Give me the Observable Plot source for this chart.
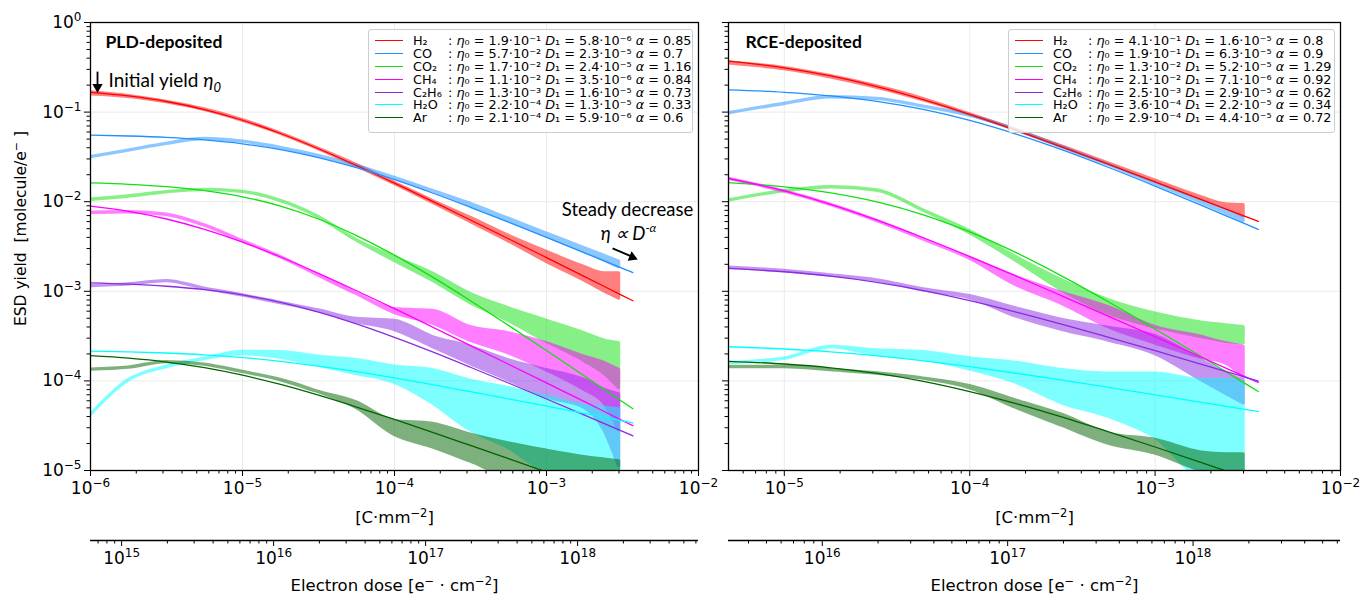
<!DOCTYPE html>
<html>
<head>
<meta charset="utf-8">
<script src="https://cdn.jsdelivr.net/npm/d3@7"></script>
<script src="https://cdn.jsdelivr.net/npm/@observablehq/plot@0.6"></script>
<style>
  body { margin: 0; background: #fff; }
  #wrap { position: relative; width: 1370px; height: 596px; overflow: hidden; font-family: "DejaVu Sans", sans-serif; }
  .legend { position: absolute; box-sizing: border-box; background: rgba(255,255,255,0.82); border: 1px solid #cdcdcd; border-radius: 3px; padding-top: 5px; font-family: "DejaVu Sans", sans-serif; font-size: 12.8px; color: #000; }
  .legend .row { height: 12.9px; line-height: 12.9px; white-space: nowrap; }
  .legend .sw { display: inline-block; width: 28px; height: 0; border-top: 1.8px solid; vertical-align: middle; margin-left: 6px; margin-right: 10px; position: relative; top: -1px; }
  .legend .nm { display: inline-block; width: 35px; }
</style>
</head>
<body>
<div id="wrap"></div>
<script>
// ---------------- categories & styles ----------------
const species = ["H₂", "CO", "CO₂", "CH₄", "C₂H₆", "H₂O", "Ar"];
const colors = ["#ff0000", "#1e90ff", "#10e010", "#ff00ff", "#8a2be2", "#00ffff", "#006400"];

// ---------------- legend (fit parameters) ----------------
const pldEta0Mant = [1.9, 5.7, 1.7, 1.1, 1.3, 2.2, 2.1];
const pldEta0Exp  = [-1, -2, -2, -2, -3, -4, -4];
const pldD1Mant   = [5.8, 2.3, 2.4, 3.5, 1.6, 1.3, 5.9];
const pldD1Exp    = [-6, -5, -5, -6, -5, -5, -6];
const pldAlpha    = [0.85, 0.7, 1.16, 0.84, 0.73, 0.33, 0.6];
const rceEta0Mant = [4.1, 1.9, 1.3, 2.1, 2.5, 3.6, 2.9];
const rceEta0Exp  = [-1, -1, -2, -2, -3, -4, -4];
const rceD1Mant   = [1.6, 6.3, 5.2, 7.1, 2.9, 2.2, 4.4];
const rceD1Exp    = [-5, -5, -5, -6, -5, -5, -5];
const rceAlpha    = [0.8, 0.9, 1.29, 0.92, 0.62, 0.34, 0.72];

// ---------------- ticks ----------------
const yTicks = [1e-5, 1e-4, 1e-3, 1e-2, 1e-1, 1];
const yTickLabels = ["10⁻⁵", "10⁻⁴", "10⁻³", "10⁻²", "10⁻¹", "10⁰"];
const xTicksL = [1e-6, 1e-5, 1e-4, 1e-3, 1e-2];
const xTickLabelsL = ["10⁻⁶", "10⁻⁵", "10⁻⁴", "10⁻³", "10⁻²"];
const xTicksR = [1e-5, 1e-4, 1e-3, 1e-2];
const xTickLabelsR = ["10⁻⁵", "10⁻⁴", "10⁻³", "10⁻²"];
const eTicksL = [1e15, 1e16, 1e17, 1e18];
const eTickLabelsL = ["10¹⁵", "10¹⁶", "10¹⁷", "10¹⁸"];
const eTicksR = [1e16, 1e17, 1e18];
const eTickLabelsR = ["10¹⁶", "10¹⁷", "10¹⁸"];
const electronsPerCmm2 = 6.2415e20; // 1 C·mm⁻² in e⁻·cm⁻²

// ---------------- PLD-deposited: fitted curves ----------------
const pldFitDose = [1e-6, 1.78e-6, 3.16e-6, 5.62e-6, 1e-5, 1.78e-5, 3.16e-5, 5.62e-5, 1e-4, 1.78e-4, 3.16e-4, 5.62e-4, 1e-3, 1.78e-3, 3.16e-3, 3.7e-3];
const pldFitH2   = [0.166, 0.1514, 0.1313, 0.1068, 0.0811, 0.0577, 0.039, 0.02535, 0.0161, 0.01008, 0.00625, 0.00386, 0.002375, 0.001459, 0.000896, 0.000784];
const pldFitCO   = [0.0553, 0.0541, 0.0521, 0.0489, 0.0443, 0.0382, 0.0311, 0.024, 0.01763, 0.01251, 0.00866, 0.00591, 0.004, 0.00269, 0.001806, 0.00162];
const pldFitCO2  = [0.01621, 0.01564, 0.01472, 0.01331, 0.01135, 0.00894, 0.00641, 0.00419, 0.00253, 0.001438, 0.000785, 0.000417, 0.0002185, 0.0001134, 0.0000586, 0.0000489];
const pldFitCH4  = [0.00891, 0.00779, 0.00641, 0.00492, 0.00354, 0.002415, 0.001586, 0.001015, 0.00064, 0.000399, 0.000248, 0.0001535, 0.0000949, 0.0000586, 0.0000361, 0.0000317];
const pldFitC2H6 = [0.001244, 0.001204, 0.001139, 0.001043, 0.000912, 0.000753, 0.000587, 0.000433, 0.000306, 0.0002105, 0.000142, 0.0000947, 0.0000628, 0.0000415, 0.0000273, 0.0000244];
const pldFitH2O  = [0.0002147, 0.0002109, 0.0002048, 0.0001954, 0.0001822, 0.0001655, 0.0001464, 0.0001267, 0.0001078, 0.0000907, 0.0000757, 0.000063, 0.0000523, 0.0000433, 0.0000358, 0.000034];
const pldFitAr   = [0.0001912, 0.0001792, 0.0001623, 0.0001405, 0.0001158, 0.0000912, 0.0000692, 0.0000511, 0.0000371, 0.0000267, 0.00001905, 0.00001355, 0.00000962, 0.00000682, 0.00000483, 0.0000044];

// ---------------- PLD-deposited: measured (lower / upper envelope) ----------------
const pldMeasDose = [1e-6, 1.78e-6, 3.16e-6, 5.62e-6, 1e-5, 1.78e-5, 3.16e-5, 5.62e-5, 1e-4, 1.78e-4, 3.16e-4, 5.62e-4, 1e-3, 1.78e-3, 2.4e-3, 3e-3];
const pldH2Lo   = [0.158, 0.148, 0.129, 0.106, 0.0804, 0.0575, 0.0389, 0.0251, 0.01585, 0.00977, 0.00596, 0.00363, 0.00214, 0.00132, 0.001, 0.000832];
const pldH2Hi   = [0.166, 0.151, 0.130, 0.107, 0.0813, 0.0575, 0.0389, 0.0257, 0.0162, 0.0102, 0.00661, 0.00417, 0.00275, 0.00186, 0.00158, 0.00158];
const pldCOLo   = [0.0314, 0.0372, 0.0442, 0.0501, 0.0468, 0.0398, 0.0324, 0.0251, 0.0184, 0.0132, 0.00902, 0.00617, 0.00412, 0.00275, 0.00221, 0.00186];
const pldCOHi   = [0.0314, 0.0372, 0.0442, 0.0501, 0.0468, 0.0398, 0.0324, 0.0251, 0.0184, 0.0132, 0.00944, 0.00646, 0.00442, 0.00302, 0.00248, 0.00214];
const pldCO2Lo  = [0.0105, 0.01143, 0.01276, 0.01355, 0.01288, 0.01023, 0.00676, 0.00372, 0.00219, 0.00132, 0.000741, 0.000468, 0.000275, 0.000166, 0.00012, 0.0000832];
const pldCO2Hi  = [0.0105, 0.01143, 0.01276, 0.01355, 0.01288, 0.01023, 0.00676, 0.00372, 0.0024, 0.00158, 0.000933, 0.000646, 0.000468, 0.000339, 0.000282, 0.000263];
const pldCH4Lo  = [0.00752, 0.00764, 0.00715, 0.00543, 0.00363, 0.00241, 0.0015, 0.00094, 0.000575, 0.000437, 0.000282, 0.000204, 0.000132, 0.0000794, 0.0000562, 0.0000282];
const pldCH4Hi  = [0.00752, 0.00764, 0.00715, 0.00543, 0.00363, 0.00241, 0.0015, 0.00094, 0.000631, 0.000603, 0.000398, 0.000339, 0.000263, 0.000186, 0.000158, 0.000132];
const pldC2H6Lo = [0.001143, 0.001194, 0.0013, 0.00107, 0.0009, 0.00074, 0.000601, 0.000457, 0.000372, 0.00024, 0.000155, 0.000102, 0.0000661, 0.0000501, 0.0000282, 0.0000112];
const pldC2H6Hi = [0.001143, 0.001194, 0.0013, 0.00107, 0.0009, 0.00074, 0.00061, 0.00049, 0.000468, 0.000309, 0.00024, 0.00017, 0.000132, 0.000102, 0.0000794, 0.0000708];
const pldH2OLo  = [0.0000414, 0.0001016, 0.0001429, 0.0001754, 0.0002, 0.000182, 0.000148, 0.00012, 0.0000955, 0.0000562, 0.0000282, 0.0000178, 0.00001, 0.0000089, 0.0000089, 0.0000089];
const pldH2OHi  = [0.0000414, 0.0001016, 0.0001429, 0.0001754, 0.000211, 0.000209, 0.000186, 0.00017, 0.0001445, 0.0001318, 0.0001, 0.0000832, 0.0000661, 0.0000525, 0.0000501, 0.0000479];
const pldArLo   = [0.0001336, 0.0001406, 0.0001622, 0.000152, 0.0001259, 0.0001023, 0.0000752, 0.0000501, 0.0000251, 0.0000182, 0.0000126, 0.0000089, 0.0000089, 0.0000089, 0.0000089, 0.0000089];
const pldArHi   = [0.0001336, 0.0001406, 0.0001622, 0.000152, 0.0001259, 0.0001023, 0.0000752, 0.0000575, 0.0000355, 0.0000331, 0.0000251, 0.00002, 0.0000166, 0.0000141, 0.0000132, 0.0000126];

// ---------------- RCE-deposited: fitted curves ----------------
const rceFitDose = [5e-6, 1e-5, 1.78e-5, 3.16e-5, 5.62e-5, 1e-4, 1.78e-4, 3.16e-4, 5.62e-4, 1e-3, 1.78e-3, 3.16e-3, 3.6e-3];
const rceFitH2   = [0.370, 0.312, 0.253, 0.1922, 0.1377, 0.0943, 0.0626, 0.0406, 0.0261, 0.01662, 0.01055, 0.00668, 0.00602];
const rceFitCO   = [0.1774, 0.1664, 0.1519, 0.1318, 0.107, 0.0808, 0.0568, 0.0378, 0.02408, 0.01494, 0.00911, 0.0055, 0.00491];
const rceFitCO2  = [0.01632, 0.01463, 0.01256, 0.00995, 0.00713, 0.0046, 0.0027, 0.00147, 0.00076, 0.000379, 0.0001857, 0.0000898, 0.0000762];
const rceFitCH4  = [0.01816, 0.01321, 0.00936, 0.00623, 0.00396, 0.002443, 0.001478, 0.000884, 0.000525, 0.000311, 0.0001836, 0.0001083, 0.0000961];
const rceFitC2H6 = [0.0018, 0.001652, 0.001476, 0.001257, 0.001018, 0.000787, 0.000587, 0.000428, 0.000306, 0.0002173, 0.0001532, 0.0001077, 0.0000994];
const rceFitH2O  = [0.0002405, 0.000227, 0.0002108, 0.0001905, 0.0001675, 0.000144, 0.0001217, 0.0001018, 0.0000845, 0.0000699, 0.0000577, 0.0000475, 0.0000455];
const rceFitAr   = [0.0001655, 0.0001543, 0.0001401, 0.0001211, 0.0000989, 0.0000761, 0.0000558, 0.0000394, 0.00002705, 0.00001829, 0.00001225, 0.00000815, 0.00000743];

// ---------------- RCE-deposited: measured (lower / upper envelope) ----------------
const rceMeasDose = [5e-6, 1e-5, 1.78e-5, 3.16e-5, 5.62e-5, 1e-4, 1.78e-4, 3.16e-4, 5.62e-4, 1e-3, 1.78e-3, 2.4e-3, 3e-3];
const rceH2Lo   = [0.351, 0.302, 0.245, 0.188, 0.136, 0.0944, 0.0631, 0.0412, 0.0266, 0.0168, 0.0107, 0.00851, 0.00692];
const rceH2Hi   = [0.359, 0.309, 0.251, 0.193, 0.140, 0.0944, 0.0631, 0.0412, 0.0266, 0.0172, 0.0112, 0.00933, 0.00912];
const rceCOLo   = [0.097, 0.1233, 0.1462, 0.1403, 0.1151, 0.0912, 0.0631, 0.0403, 0.0257, 0.01585, 0.00977, 0.0075, 0.0061];
const rceCOHi   = [0.097, 0.1233, 0.1462, 0.1403, 0.1151, 0.0912, 0.0631, 0.0403, 0.0257, 0.01585, 0.01, 0.00785, 0.00646];
const rceCO2Lo  = [0.0103, 0.0131, 0.01452, 0.01334, 0.00798, 0.00447, 0.00219, 0.001023, 0.000562, 0.000398, 0.000309, 0.000275, 0.000263];
const rceCO2Hi  = [0.0103, 0.0131, 0.01452, 0.01334, 0.00798, 0.00468, 0.0024, 0.00132, 0.000794, 0.000562, 0.000447, 0.000417, 0.000398];
const rceCH4Lo  = [0.018, 0.01303, 0.00923, 0.0061, 0.0038, 0.00232, 0.001175, 0.000724, 0.000398, 0.000263, 0.000182, 0.000158, 0.000112];
const rceCH4Hi  = [0.018, 0.01303, 0.00923, 0.0061, 0.0038, 0.00237, 0.001445, 0.000955, 0.000661, 0.000398, 0.000309, 0.000263, 0.00024];
const rceC2H6Lo = [0.001832, 0.001683, 0.001503, 0.001324, 0.001023, 0.000841, 0.000525, 0.000372, 0.000282, 0.0002, 0.000102, 0.0000724, 0.0000562];
const rceC2H6Hi = [0.001832, 0.001683, 0.001503, 0.001324, 0.001047, 0.000881, 0.000646, 0.000479, 0.000389, 0.000316, 0.00017, 0.00012, 0.000102];
const rceH2OLo  = [0.0001585, 0.000177, 0.0002388, 0.000195, 0.0001738, 0.0001349, 0.0000955, 0.0000562, 0.0000398, 0.0000234, 0.0000089, 0.0000089, 0.0000089];
const rceH2OHi  = [0.0001585, 0.000177, 0.0002388, 0.0002188, 0.000209, 0.0001778, 0.0001585, 0.0001318, 0.0001202, 0.0001202, 0.0001023, 0.0001023, 0.0000955];
const rceArLo   = [0.0001429, 0.0001429, 0.0001318, 0.0001208, 0.0001059, 0.0000832, 0.0000501, 0.0000316, 0.00002, 0.0000155, 0.00001, 0.0000089, 0.0000089];
const rceArHi   = [0.0001429, 0.0001429, 0.0001318, 0.0001208, 0.0001059, 0.0000871, 0.0000603, 0.0000417, 0.0000257, 0.0000219, 0.00001585, 0.00001514, 0.00001514];

// ---------------- assemble tables ----------------
const pldFits = [pldFitH2, pldFitCO, pldFitCO2, pldFitCH4, pldFitC2H6, pldFitH2O, pldFitAr];
const pldLos = [pldH2Lo, pldCOLo, pldCO2Lo, pldCH4Lo, pldC2H6Lo, pldH2OLo, pldArLo];
const pldHis = [pldH2Hi, pldCOHi, pldCO2Hi, pldCH4Hi, pldC2H6Hi, pldH2OHi, pldArHi];
const rceFits = [rceFitH2, rceFitCO, rceFitCO2, rceFitCH4, rceFitC2H6, rceFitH2O, rceFitAr];
const rceLos = [rceH2Lo, rceCOLo, rceCO2Lo, rceCH4Lo, rceC2H6Lo, rceH2OLo, rceArLo];
const rceHis = [rceH2Hi, rceCOHi, rceCO2Hi, rceCH4Hi, rceC2H6Hi, rceH2OHi, rceArHi];

const fitRows = (dose, vals, sp) => dose.map((d, i) => ({dose: d, yield: vals[i], species: sp}));
const measRows = (dose, lo, hi, sp) => dose.map((d, i) => ({dose: d, lo: lo[i], hi: hi[i], species: sp}));

function minorTicks(lo, hi) {
  const out = [];
  for (let k = -20; k <= 20; k++) for (let m = 2; m <= 9; m++) {
    const v = m * Math.pow(10, k);
    if (v > lo * 1.0001 && v < hi * 0.9999) out.push(v);
  }
  return out;
}

const wrap = document.getElementById("wrap");
function place(el, left, top) {
  el.style.position = "absolute";
  el.style.left = left + "px";
  el.style.top = top + "px";
  wrap.appendChild(el);
}
const svgStyle = {background: "transparent", overflow: "visible", fontFamily: "DejaVu Sans", fontSize: "16px", color: "#000", maxWidth: "none"};
const NS = "http://www.w3.org/2000/svg";
function richText(svg, plain, parts) {
  for (const t of svg.querySelectorAll("text")) {
    if (t.textContent === plain) {
      t.textContent = "";
      for (const p of parts) {
        const s = document.createElementNS(NS, "tspan");
        s.textContent = p.t;
        if (p.style) s.setAttribute("font-style", p.style);
        if (p.size) s.setAttribute("font-size", p.size);
        if (p.dy) s.setAttribute("dy", p.dy);
        t.appendChild(s);
      }
    }
  }
}
// turn "10⁻⁶"-style tick labels into base + raised smaller exponent (like mathtext)
const unsup = {"⁻": "−", "⁰": "0", "¹": "1", "²": "2", "³": "3", "⁴": "4", "⁵": "5", "⁶": "6", "⁷": "7", "⁸": "8", "⁹": "9"};
function powerLabels(svg) {
  for (const t of svg.querySelectorAll("text")) {
    const m = /^10([⁻⁰¹²³⁴⁵⁶⁷⁸⁹]+)$/.exec(t.textContent);
    if (!m) continue;
    const exp = m[1].split("").map(c => unsup[c]).join("");
    t.textContent = "";
    const a = document.createElementNS(NS, "tspan"); a.textContent = "10"; t.appendChild(a);
    const b = document.createElementNS(NS, "tspan"); b.textContent = exp;
    b.setAttribute("font-size", "12px"); b.setAttribute("dy", "-7"); t.appendChild(b);
  }
}
const unitLabelC = "[C·mm⁻²]";
const unitLabelE = "Electron dose [e⁻ · cm⁻²]";
const unitLabelY = "ESD yield  [molecule/e⁻ ]";
function unitParts(svg) {
  richText(svg, unitLabelC, [{t: "[C·mm"}, {t: "−2", size: "11.5px", dy: "-6"}, {t: "]", dy: "6"}]);
  richText(svg, unitLabelE, [{t: "Electron dose [e"}, {t: "−", size: "11.5px", dy: "-6"}, {t: " · cm", dy: "6"}, {t: "−2", size: "11.5px", dy: "-6"}, {t: "]", dy: "6"}]);
  richText(svg, unitLabelY, [{t: "ESD yield  [molecule/e"}, {t: "−", size: "11px", dy: "-6"}, {t: " ]", dy: "6"}]);
}

// annotation anchors (in data coordinates of the PLD panel)
const annot = {
  initText: {x: 1.314e-6, y: 0.2244},
  initArrow: {x1: 1.112e-6, y1: 0.283, x2: 1.112e-6, y2: 0.1924},
  initHead: {x: 1.112e-6, y: 0.1905},
  steadyText: {x: 3.41e-3, y: 8.0e-3},
  lawText: {x: 3.46e-3, y: 4.35e-3},
  steadyArrow: {x1: 2.72e-3, y1: 3.01e-3, x2: 3.62e-3, y2: 2.45e-3},
  steadyHead: {x: 3.67e-3, y: 2.40e-3}
};

function mainPanel({width, marginLeft, marginRight, xDomain, xTicks, xTickLabels, showYLabels, fitDose, fits, measDose, los, his, title, titleDx, extras}) {
  const xLab = new Map(xTicks.map((v, i) => [v, xTickLabels[i]]));
  const yLab = new Map(yTicks.map((v, i) => [v, yTickLabels[i]]));
  const marks = [
    Plot.gridX({ticks: xTicks, stroke: "#ebebeb", strokeOpacity: 1, strokeWidth: 1}),
    Plot.gridY({ticks: yTicks, stroke: "#ebebeb", strokeOpacity: 1, strokeWidth: 1}),
    ...species.map((sp, i) => Plot.areaY(measRows(measDose, los[i], his[i], sp), {
      x: "dose", y1: "lo", y2: "hi", fill: colors[i], stroke: colors[i], strokeWidth: 3.4,
      strokeLinejoin: "round", opacity: 0.5, curve: "monotone-x", clip: true
    })),
    ...species.map((sp, i) => Plot.line(fitRows(fitDose, fits[i], sp), {
      x: "dose", y: "yield", stroke: colors[i], strokeWidth: 1.3, curve: "monotone-x", clip: true
    })),
    Plot.frame({stroke: "#000", strokeWidth: 1.3}),
    Plot.axisX({ticks: xTicks, tickFormat: d => xLab.get(d), tickSize: 6, tickPadding: 5, label: null, fontSize: 17}),
    Plot.axisX({ticks: minorTicks(xDomain[0], xDomain[1]), tickFormat: () => "", tickSize: 3.5, label: null}),
    Plot.axisY({ticks: yTicks, tickFormat: showYLabels ? (d => yLab.get(d)) : (() => ""), tickSize: 6, tickPadding: 3, label: null, fontSize: 17}),
    Plot.axisY({ticks: minorTicks(1e-5, 1), tickFormat: () => "", tickSize: 3.5, label: null}),
    Plot.text([title], {text: d => d, frameAnchor: "top-left", dx: titleDx, dy: 19.5, textAnchor: "start", lineAnchor: "middle",
      fontFamily: "Lato", fontWeight: "bold", fontSize: 17.5}),
    Plot.text([unitLabelC], {text: d => d, frameAnchor: "bottom", dy: 47, textAnchor: "middle", lineAnchor: "middle", fontSize: 16.5}),
    ...(extras || [])
  ];
  const svg = Plot.plot({
    width, height: 530, marginLeft, marginRight, marginTop: 22, marginBottom: 60,
    x: {type: "log", domain: xDomain, label: null},
    y: {type: "log", domain: [1e-5, 1], label: null},
    style: svgStyle,
    marks
  });
  powerLabels(svg);
  unitParts(svg);
  return svg;
}

function doseAxis({width, marginLeft, marginRight, xDomain, ticks, labels}) {
  const lab = new Map(ticks.map((v, i) => [v, labels[i]]));
  const dom = [xDomain[0] * electronsPerCmm2, xDomain[1] * electronsPerCmm2];
  const svg = Plot.plot({
    width, height: 66, marginLeft, marginRight, marginTop: 0, marginBottom: 56,
    x: {type: "log", domain: dom, label: null},
    y: {domain: [0, 1], axis: null},
    style: svgStyle,
    marks: [
      Plot.ruleY([0], {stroke: "#000", strokeWidth: 1.3}),
      Plot.axisX({ticks, tickFormat: d => lab.get(d), tickSize: 6, tickPadding: 5, label: null, fontSize: 17}),
      Plot.axisX({ticks: minorTicks(dom[0], dom[1]), tickFormat: () => "", tickSize: 3.5, label: null}),
      Plot.text([unitLabelE], {text: d => d, frameAnchor: "bottom", dy: 45, textAnchor: "middle", lineAnchor: "middle", fontSize: 16.5})
    ]
  });
  powerLabels(svg);
  unitParts(svg);
  return svg;
}

// ---------------- left (PLD) ----------------
const pldExtras = [
  Plot.text([unitLabelY], {text: d => d, frameAnchor: "left", rotate: -90, dx: -69, dy: -18, textAnchor: "middle", lineAnchor: "middle", fontSize: 15.5}),
  Plot.link([annot.initArrow], {x1: "x1", y1: "y1", x2: "x2", y2: "y2", stroke: "#000", strokeWidth: 1.8}),
  Plot.dot([annot.initHead], {x: "x", y: "y", symbol: "triangle", r: 3.8, fill: "#000", stroke: "none", rotate: 180}),
  Plot.text(["Initial yield η0"], {x: () => annot.initText.x, y: () => annot.initText.y, text: d => d, textAnchor: "start", lineAnchor: "middle", fontFamily: "Lato", fontSize: 19}),
  Plot.text(["Steady decrease"], {x: () => annot.steadyText.x, y: () => annot.steadyText.y, text: d => d, textAnchor: "middle", lineAnchor: "middle", fontFamily: "Lato", fontSize: 18.5}),
  Plot.text(["η ∝ D-α"], {x: () => annot.lawText.x, y: () => annot.lawText.y, text: d => d, textAnchor: "middle", lineAnchor: "middle", fontFamily: "Lato", fontSize: 18.5}),
  Plot.link([annot.steadyArrow], {x1: "x1", y1: "y1", x2: "x2", y2: "y2", stroke: "#000", strokeWidth: 1.8}),
  Plot.dot([annot.steadyHead], {x: "x", y: "y", symbol: "triangle", r: 3.8, fill: "#000", stroke: "none", rotate: 112.6})
];
const left = mainPanel({
  width: 710, marginLeft: 90, marginRight: 12, xDomain: [1e-6, 1e-2], xTicks: xTicksL, xTickLabels: xTickLabelsL,
  showYLabels: true, fitDose: pldFitDose, fits: pldFits, measDose: pldMeasDose, los: pldLos, his: pldHis,
  title: "PLD-deposited", titleDx: 15, extras: pldExtras
});
richText(left, "Initial yield η0", [{t: "Initial yield "}, {t: "η", style: "italic"}, {t: "0", style: "italic", size: "13px", dy: "5"}]);
richText(left, "η ∝ D-α", [{t: "η ∝ D", style: "italic"}, {t: "-α", style: "italic", size: "12px", dy: "-8"}]);
place(left, 0, 0);

// ---------------- right (RCE) ----------------
const right = mainPanel({
  width: 660, marginLeft: 18, marginRight: 30, xDomain: [5e-6, 1e-2], xTicks: xTicksR, xTickLabels: xTickLabelsR,
  showYLabels: false, fitDose: rceFitDose, fits: rceFits, measDose: rceMeasDose, los: rceLos, his: rceHis,
  title: "RCE-deposited", titleDx: 17, extras: []
});
place(right, 710, 0);

place(doseAxis({width: 710, marginLeft: 90, marginRight: 12, xDomain: [1e-6, 1e-2], ticks: eTicksL, labels: eTickLabelsL}), 0, 530);
place(doseAxis({width: 660, marginLeft: 18, marginRight: 30, xDomain: [5e-6, 1e-2], ticks: eTicksR, labels: eTickLabelsR}), 710, 530);

// ---------------- legends ----------------
const supMap = {"-": "⁻", "0": "⁰", "1": "¹", "2": "²", "3": "³", "4": "⁴", "5": "⁵", "6": "⁶", "7": "⁷", "8": "⁸", "9": "⁹"};
const sup = n => String(n).split("").map(c => supMap[c] || c).join("");
function legend(left, top, width, eM, eE, dM, dE, al) {
  const div = document.createElement("div");
  div.className = "legend";
  div.style.left = left + "px";
  div.style.top = top + "px";
  div.style.width = width + "px";
  div.style.height = "104px";
  div.innerHTML = species.map((sp, i) =>
    `<div class="row"><span class="sw" style="border-color:${colors[i]}"></span><span class="nm">${sp}</span>: ` +
    `<i>η</i>₀ = ${eM[i].toFixed(1)}·10${sup(eE[i])} <i>D</i>₁ = ${dM[i].toFixed(1)}·10${sup(dE[i])} <i>α</i> = ${al[i]}</div>`
  ).join("");
  wrap.appendChild(div);
}
legend(368, 29, 325, pldEta0Mant, pldEta0Exp, pldD1Mant, pldD1Exp, pldAlpha);
legend(1008, 29, 327, rceEta0Mant, rceEta0Exp, rceD1Mant, rceD1Exp, rceAlpha);
</script>
</body>
</html>
